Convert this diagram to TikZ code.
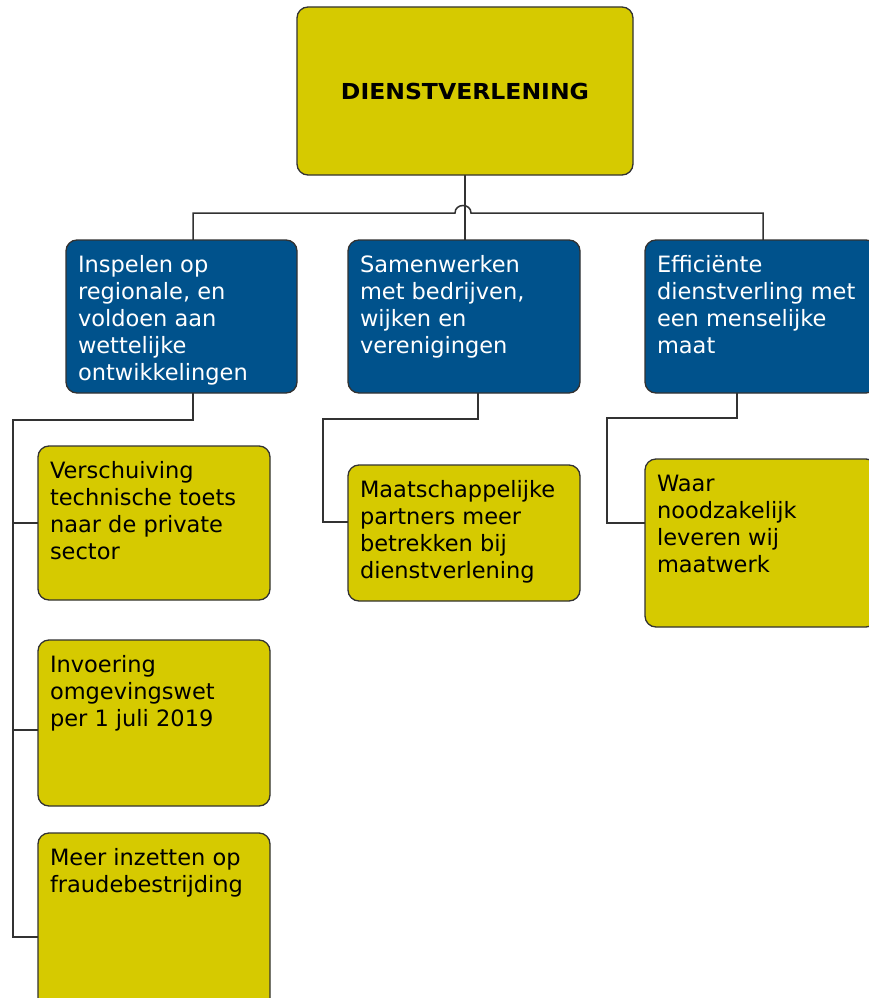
\documentclass[tikz,border=0pt]{standalone}
\usepackage{fontspec}
\setmainfont{DejaVu Sans}
\usetikzlibrary{backgrounds}

\definecolor{boxyellow}{RGB}{214,202,0}
\definecolor{boxblue}{RGB}{0,82,140}
\definecolor{edgegray}{RGB}{50,50,50}

% top-aligned, left-aligned text block of a fixed size
\newcommand\boxtxt[3]{\parbox[c][#2][t]{#1}{\raggedright\leftskip=12pt\relax
  \vspace*{15.5pt}\rule{0pt}{17pt}\ignorespaces#3}}

\begin{document}
\begin{tikzpicture}[x=1pt,y=-1pt,
  card/.style={draw=edgegray, line width=1.3pt, rounded corners=11pt,
    inner sep=0pt, outer sep=0pt, anchor=north west,
    font=\fontsize{22.5}{27}\selectfont},
  bluecard/.style={card, fill=boxblue, text=white},
  yellowcard/.style={card, fill=boxyellow, text=black},
  link/.style={draw=edgegray, line width=1.5pt}]

\useasboundingbox (0,0) rectangle (869,998);
\clip (0,0) rectangle (869,998);

% root
\node[yellowcard, minimum width=336pt, minimum height=168pt, anchor=north west,
  font=\fontsize{22}{27}\selectfont]
  (top) at (297,7) {\scalebox{1.07}[1]{\bfseries DIENSTVERLENING}};

% themes
\node[bluecard] (bl) at (66,240)
  {\boxtxt{231pt}{153pt}{Inspelen op\\regionale, en\\voldoen aan\\wettelijke\\ontwikkelingen}};
\node[bluecard] (bm) at (348,240)
  {\boxtxt{232pt}{153pt}{Samenwerken\\met bedrijven,\\wijken en\\verenigingen}};
\node[bluecard] (br) at (645,240)
  {\boxtxt{232pt}{153pt}{Efficiënte\\dienstverling met\\een menselijke\\maat}};

% actions
\node[yellowcard] (a1) at (38,446)
  {\boxtxt{232pt}{154pt}{Verschuiving\\technische toets\\naar de private\\sector}};
\node[yellowcard] (a2) at (38,640)
  {\boxtxt{232pt}{166pt}{Invoering\\omgevingswet\\per 1 juli 2019}};
\node[yellowcard] (a3) at (38,833)
  {\boxtxt{232pt}{200pt}{Meer inzetten op\\fraudebestrijding}};
\node[yellowcard] (b1) at (348,465)
  {\boxtxt{232pt}{136pt}{Maatschappelijke\\partners meer\\betrekken bij\\dienstverlening}};
\node[yellowcard] (c1) at (645,459)
  {\boxtxt{232pt}{168pt}{Waar\\noodzakelijk\\leveren wij\\maatwerk}};

% connector joints
\coordinate (busL) at (193,213);
\coordinate (hopA) at (455,213);
\coordinate (hopB) at (471,213);
\coordinate (busR) at (763,213);
\coordinate (lsplit) at (193,420);
\coordinate (ltrunk) at (13,420);
\coordinate (l2) at (13,730);
\coordinate (lend) at (13,937);
\coordinate (msplit) at (478,419);
\coordinate (mtrunk) at (323,419);
\coordinate (mend) at (323,522);
\coordinate (rsplit) at (737,418);
\coordinate (rtrunk) at (607,418);
\coordinate (rend) at (607,523);

\begin{scope}[on background layer]
  \fill[white] (0,0) rectangle (869,998);
  % root to themes
  \draw[link] (top.south) -- (bm.north -| top.south);
  \draw[link] (busL |- bl.north) -- (busL) -- (hopA)
    .. controls (455,203) and (471,203) .. (hopB) -- (busR) -- (busR |- br.north);
  % left theme
  \draw[link] (bl.south -| lsplit) -- (lsplit) -- (ltrunk) -- (lend) -- (lend -| a3.west);
  \draw[link] (ltrunk |- a1.west) -- (a1.west);
  \draw[link] (l2) -- (l2 -| a2.west);
  % middle theme
  \draw[link] (bm.south -| msplit) -- (msplit) -- (mtrunk) -- (mend) -- (mend -| b1.west);
  % right theme
  \draw[link] (br.south -| rsplit) -- (rsplit) -- (rtrunk) -- (rend) -- (rend -| c1.west);
\end{scope}
\end{tikzpicture}
\end{document}
